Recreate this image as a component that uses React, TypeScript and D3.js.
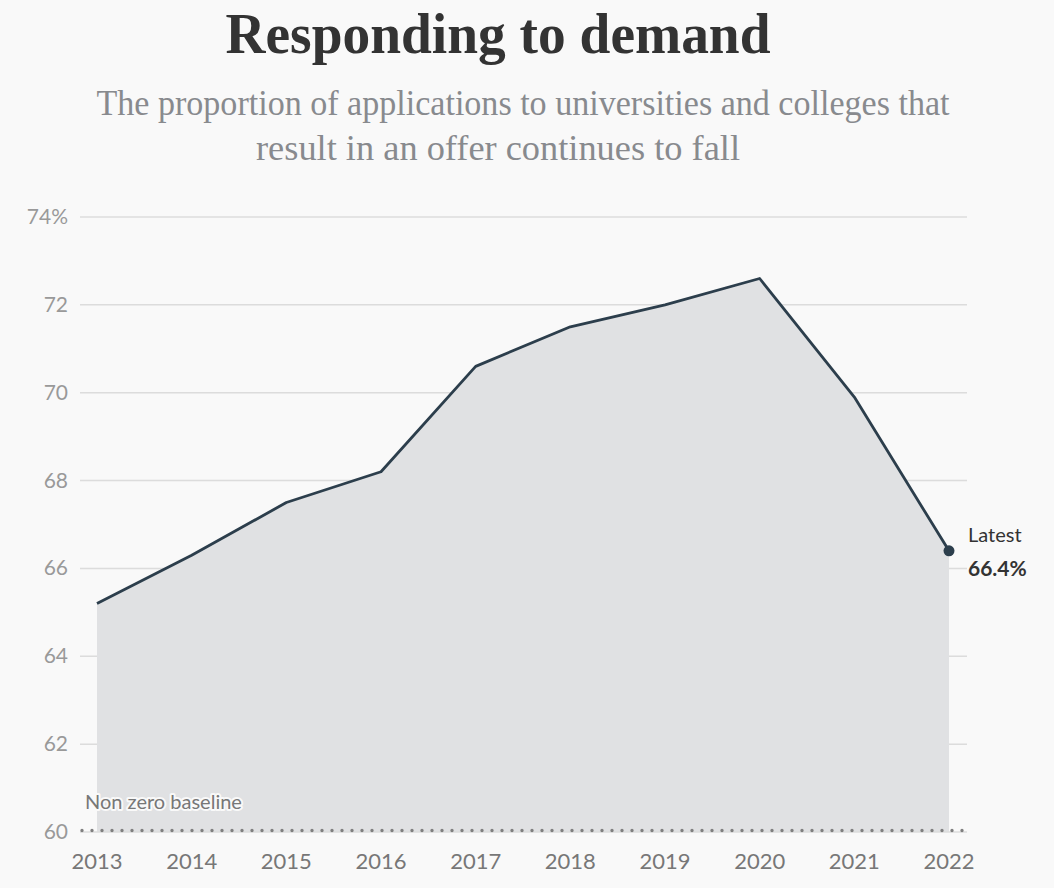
import React from "react";
import * as d3 from "d3";

const years = [2013, 2014, 2015, 2016, 2017, 2018, 2019, 2020, 2021, 2022];
const offerRate = [65.2, 66.3, 67.5, 68.2, 70.6, 71.5, 72.0, 72.6, 69.9, 66.4];
const yTicks = [60, 62, 64, 66, 68, 70, 72, 74];

const W = 1054;
const H = 888;
const sans = "Lato, 'Open Sans', sans-serif";
const serif = "'Liberation Serif', 'DejaVu Serif', serif";

export default function App() {
  const x = d3.scaleLinear().domain([2013, 2022]).range([97, 949]);
  const y = d3.scaleLinear().domain([60, 74]).range([832, 217]);
  const data = years.map((yr, i) => ({ yr, v: offerRate[i] }));
  const area = d3
    .area<{ yr: number; v: number }>()
    .x((d) => x(d.yr))
    .y0(y(60))
    .y1((d) => y(d.v));
  const line = d3
    .line<{ yr: number; v: number }>()
    .x((d) => x(d.yr))
    .y((d) => y(d.v));
  const last = data[data.length - 1];

  return (
    <svg
      width={W}
      height={H}
      style={{ position: "absolute", left: 0, top: 0, background: "#f9f9f9" }}
    >
      <rect x={0} y={0} width={W} height={H} fill="#f9f9f9" />
      <text
        x={498}
        y={53}
        textAnchor="middle"
        fontFamily={serif}
        fontWeight="bold"
        fontSize={58}
        fill="#333"
        textLength={545}
        lengthAdjust="spacingAndGlyphs"
      >
        Responding to demand
      </text>
      <text
        x={523}
        y={115}
        textAnchor="middle"
        fontFamily={serif}
        fontSize={36}
        fill="#888a8e"
        textLength={853}
        lengthAdjust="spacingAndGlyphs"
      >
        The proportion of applications to universities and colleges that
      </text>
      <text
        x={498}
        y={160}
        textAnchor="middle"
        fontFamily={serif}
        fontSize={36}
        fill="#888a8e"
        textLength={484}
        lengthAdjust="spacingAndGlyphs"
      >
        result in an offer continues to fall
      </text>

      {yTicks.map((t) => (
        <g key={t}>
          {t !== 60 && (
            <line x1={80} x2={967} y1={y(t)} y2={y(t)} stroke="#dcdcdc" strokeWidth={1.5} />
          )}
          <text
            x={68}
            y={y(t) + 7}
            textAnchor="end"
            fontFamily={sans}
            fontSize={21}
            fill="#999"
          >
            {t === 74 ? "74%" : t}
          </text>
        </g>
      ))}

      <path d={area(data) || ""} fill="#e0e1e3" />
      <line x1={80} x2={967} y1={y(60)} y2={y(60)} stroke="#dcdcdc" strokeWidth={1.5} />
      <line
        x1={82}
        x2={967}
        y1={y(60) - 1.5}
        y2={y(60) - 1.5}
        stroke="#808080"
        strokeWidth={3.4}
        strokeDasharray="0 10"
        strokeLinecap="round"
      />
      <path d={line(data) || ""} fill="none" stroke="#2c3e4c" strokeWidth={2.8} strokeLinejoin="round" />
      <circle cx={x(last.yr)} cy={y(last.v)} r={5.5} fill="#2c3e4c" />

      <text
        x={85}
        y={809}
        fontFamily={sans}
        fontSize={20}
        fill="#777"
        stroke="#f9f9f9"
        strokeWidth={4}
        paintOrder="stroke"
        strokeLinejoin="round"
      >
        Non zero baseline
      </text>

      {years.map((yr) => (
        <text
          key={yr}
          x={x(yr)}
          y={869}
          textAnchor="middle"
          fontFamily={sans}
          fontSize={22}
          fill="#777"
        >
          {yr}
        </text>
      ))}

      <text x={968} y={542} fontFamily={sans} fontSize={20} fill="#333">
        Latest
      </text>
      <text x={968} y={576} fontFamily={sans} fontSize={21} fontWeight="bold" fill="#333">
        {`${last.v.toFixed(1)}%`}
      </text>
    </svg>
  );
}
